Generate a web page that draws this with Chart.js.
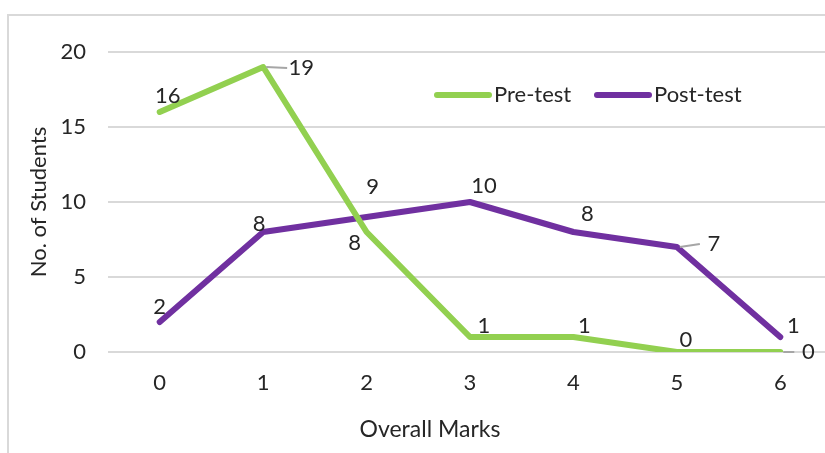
<!DOCTYPE html>
<html><head><meta charset="utf-8">
<script src="https://cdn.jsdelivr.net/npm/chart.js@4"></script>
<style>
html,body{margin:0;padding:0;overflow:hidden;background:#fff;width:825px;height:453px;}
#frame{position:absolute;left:7px;top:14px;width:860px;height:460px;border:2px solid #d9d9d9;box-sizing:border-box;}
#c{position:absolute;left:0;top:0;}
</style></head>
<body>
<div id="frame"></div>
<canvas id="c" width="850" height="453"></canvas>
<script>
const categories = ['0','1','2','3','4','5','6'];
const preTest = [16,19,8,1,1,0,0];
const postTest = [2,8,9,10,8,7,1];
const yTicks = [0,5,10,15,20];
const seriesNames = ['Pre-test','Post-test'];
const seriesColors = ['#92D050','#7030A0'];
const xTitle = 'Overall Marks';
const yTitle = 'No. of Students';
// label placement (dx, dy from point, leader flag)
const preLabelPos = [[8,-16,0],[38,1,1],[-12,11,0],[14,-11,0],[11,-11,0],[9,-12,0],[28,0,1]];
const postLabelPos = [[0,-15,0],[-4,-8,0],[6,-30,0],[14,-16,0],[14,-18,0],[37,-3,1],[13,-11,0]];

const FONT = 'Lato, "Open Sans", sans-serif';
const FS = 22;
const TXT = '#262626';

const labelPlugin = {
  id:'labels',
  afterDatasetsDraw(chart){
    const ctx = chart.ctx;
    ctx.save();
    ctx.font = FS + 'px ' + FONT;
    ctx.fillStyle = TXT;
    ctx.textAlign='center'; ctx.textBaseline='middle';
    const poss = [preLabelPos, postLabelPos];
    chart.data.datasets.forEach((ds,i)=>{
      const meta = chart.getDatasetMeta(i);
      meta.data.forEach((pt,j)=>{
        const p = poss[i][j];
        if(p[2]){
          ctx.strokeStyle='#a6a6a6'; ctx.lineWidth=2;
          ctx.beginPath(); ctx.moveTo(pt.x+3,pt.y); ctx.lineTo(pt.x+p[0]-14,pt.y+p[1]); ctx.stroke();
        }
        ctx.fillText(String(ds.data[j]), pt.x+p[0], pt.y+p[1]);
      });
    });
    // x axis title (offset left as in the original)
    ctx.font = '23px ' + FONT;
    ctx.fillText(xTitle, 430, 430);
    // legend
    ctx.font = FS + 'px ' + FONT;
    const lx = [437, 597];
    ctx.textAlign='left';
    seriesNames.forEach((n,i)=>{
      ctx.strokeStyle = seriesColors[i]; ctx.lineWidth=6; ctx.lineCap='round';
      ctx.beginPath(); ctx.moveTo(lx[i],95); ctx.lineTo(lx[i]+52,95); ctx.stroke();
      ctx.fillText(n, lx[i]+57, 95);
    });
    ctx.restore();
  }
};

new Chart(document.getElementById('c'), {
  type:'line',
  data:{
    labels: categories,
    datasets:[
      {label:seriesNames[0], data:preTest, borderColor:seriesColors[0], backgroundColor:seriesColors[0], borderWidth:6, pointRadius:0, tension:0, borderCapStyle:'round', borderJoinStyle:'round'},
      {label:seriesNames[1], data:postTest, borderColor:seriesColors[1], backgroundColor:seriesColors[1], borderWidth:6, pointRadius:0, tension:0, borderCapStyle:'round', borderJoinStyle:'round'}
    ]
  },
  options:{
    responsive:false, animation:false,
    layout:{padding:{left:26,top:52,right:18,bottom:0}},
    plugins:{legend:{display:false}, tooltip:{enabled:false}},
    scales:{
      x:{
        offset:true,
        grid:{display:false, drawTicks:false},
        border:{display:false},
        ticks:{color:TXT, font:{family:FONT,size:FS}, padding:18},
        title:{display:false},
        afterFit(s){ s.height = 101; }
      },
      y:{
        min:0, max:20,
        afterBuildTicks(s){ s.ticks = yTicks.map(v=>({value:v})); },
        grid:{color:'#d9d9d9', lineWidth:2, drawTicks:false},
        border:{display:false},
        ticks:{color:TXT, font:{family:FONT,size:FS}, padding:22},
        title:{display:true, text:yTitle, color:TXT, font:{family:FONT,size:FS}, padding:{top:0,bottom:0}},
        afterFit(s){ s.width = 82; }
      }
    }
  },
  plugins:[labelPlugin]
});
</script>
</body></html>
